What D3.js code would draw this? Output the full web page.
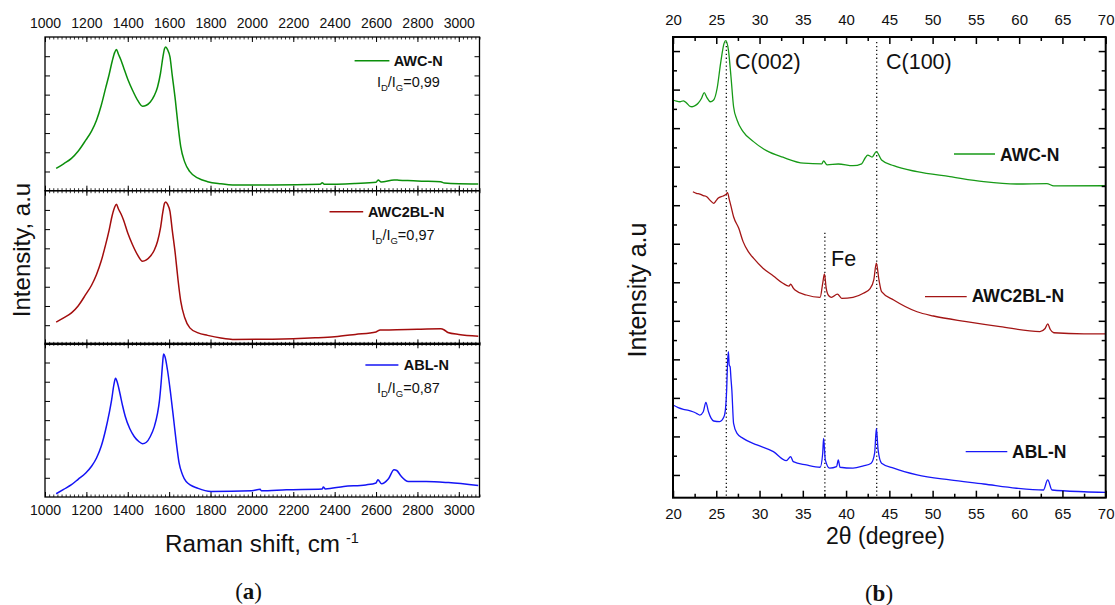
<!DOCTYPE html>
<html><head><meta charset="utf-8">
<script src="https://cdn.jsdelivr.net/npm/d3@7"></script>
<style>
body{margin:0;background:#fff;}
svg{display:block;font-family:"Liberation Sans",Arial,sans-serif;}
</style></head>
<body><svg id="c" width="1115" height="605"></svg>
<script>
// ---------- DATA ----------
// Raman spectra [shift cm^-1, intensity a.u.]
const ramanAWC = [[1054,1.16],[1090,1.40],[1128,1.68],[1160,2.05],[1197,2.63],[1225,3.10],[1249,3.67],[1272,4.45],[1293,5.34],[1310,6.05],[1325,6.75],[1337,7.20],[1345,7.35],[1355,7.10],[1367,6.80],[1379,6.44],[1400,5.80],[1423,5.23],[1448,4.70],[1471,4.40],[1490,4.45],[1509,4.62],[1528,4.95],[1544,5.40],[1558,6.10],[1570,6.96],[1578,7.40],[1584,7.48],[1592,7.35],[1604,6.96],[1615,6.00],[1630,4.71],[1643,3.40],[1656,2.29],[1675,1.50],[1700,0.99],[1740,0.65],[1786,0.47],[1850,0.36],[1907,0.30],[2100,0.30],[2330,0.33],[2340,0.42],[2350,0.33],[2500,0.38],[2600,0.44],[2610,0.56],[2625,0.45],[2687,0.56],[2710,0.55],[2800,0.50],[2912,0.47],[2930,0.40],[3000,0.36],[3094,0.35]];
const ramanAWC2BL = [[1054,1.16],[1090,1.38],[1128,1.64],[1160,2.00],[1197,2.60],[1225,3.08],[1249,3.64],[1272,4.35],[1293,5.19],[1310,5.95],[1325,6.72],[1337,7.15],[1345,7.30],[1355,7.05],[1367,6.80],[1379,6.49],[1400,5.80],[1423,5.19],[1448,4.65],[1471,4.33],[1490,4.40],[1509,4.59],[1528,4.90],[1544,5.37],[1558,6.05],[1570,6.92],[1578,7.35],[1584,7.41],[1592,7.30],[1604,6.92],[1615,5.95],[1630,4.68],[1643,3.35],[1656,2.25],[1675,1.40],[1700,0.86],[1740,0.60],[1786,0.47],[1850,0.33],[1907,0.26],[2100,0.27],[2306,0.34],[2400,0.40],[2500,0.52],[2600,0.65],[2620,0.75],[2700,0.76],[2800,0.79],[2912,0.81],[2930,0.75],[2947,0.62],[3000,0.52],[3094,0.43]];
const ramanABL = [[1054,0.17],[1090,0.40],[1128,0.64],[1160,0.92],[1197,1.25],[1225,1.60],[1249,2.03],[1272,2.65],[1293,3.50],[1310,4.35],[1322,5.05],[1333,5.85],[1341,6.18],[1350,5.95],[1362,5.40],[1375,4.75],[1388,4.19],[1410,3.55],[1431,3.15],[1452,2.90],[1471,2.77],[1490,2.85],[1509,3.15],[1528,3.65],[1544,4.36],[1553,5.00],[1561,5.92],[1568,6.90],[1573,7.44],[1580,7.30],[1592,6.61],[1607,5.40],[1622,4.02],[1635,2.80],[1648,1.77],[1665,1.15],[1682,0.81],[1740,0.45],[1803,0.29],[2000,0.33],[2040,0.40],[2045,0.33],[2167,0.38],[2340,0.42],[2345,0.52],[2355,0.42],[2444,0.55],[2550,0.63],[2600,0.73],[2609,0.90],[2626,0.69],[2660,0.95],[2687,1.42],[2700,1.38],[2720,1.10],[2756,0.81],[2842,0.81],[2950,0.75],[3094,0.60]];
const ramanNames = ["AWC-N","AWC2BL-N","ABL-N"];
const ramanRatios = ["0,99","0,97","0,87"];
const ramanTicks = [1000,1200,1400,1600,1800,2000,2200,2400,2600,2800,3000];

// XRD patterns [2theta deg, intensity a.u.]
const xrdAWC = [[20,20.46],[20.4,20.40],[20.8,20.37],[21.2,20.42],[21.6,20.29],[21.9,20.15],[22.2,20.11],[22.6,20.18],[22.9,20.29],[23.3,20.55],[23.6,20.84],[23.9,20.60],[24.3,20.37],[24.7,20.46],[25.1,21.07],[25.5,22.36],[25.9,23.40],[26.1,23.54],[26.4,23.06],[26.7,21.67],[27.0,20.11],[27.4,19.42],[28.1,18.82],[29.3,18.30],[30.8,17.83],[32.7,17.49],[35.1,17.18],[37.2,17.15],[37.4,17.30],[37.8,17.09],[39.1,17.14],[40.8,17.05],[41.8,17.15],[42.2,17.45],[42.5,17.60],[43.0,17.50],[43.5,17.78],[44.1,17.35],[45.5,17.05],[48.2,16.74],[52.0,16.48],[55.9,16.22],[59.7,16.10],[63.2,16.12],[64.0,16.00],[70,16.01]];
const xrdAWC2BL = [[22.3,15.70],[22.7,15.62],[23.1,15.58],[23.5,15.50],[23.9,15.44],[24.3,15.25],[24.7,15.10],[25.0,15.25],[25.2,15.36],[25.8,15.48],[26.1,15.55],[26.3,15.65],[26.5,15.30],[26.7,14.95],[27.0,14.40],[27.6,13.80],[28.1,13.11],[28.7,12.59],[29.3,12.25],[30.4,11.73],[31.6,11.33],[32.7,10.95],[33.4,10.80],[33.6,10.90],[33.9,10.70],[34.1,10.60],[35.4,10.34],[37.0,10.22],[37.3,10.95],[37.5,11.43],[37.7,10.70],[38.0,10.30],[38.3,10.22],[39.0,10.39],[39.5,10.17],[40.8,10.22],[42.0,10.43],[42.8,10.69],[43.2,11.12],[43.5,11.99],[43.8,11.12],[44.1,10.51],[45.5,10.08],[48.2,9.47],[50.1,9.25],[53.9,8.96],[57.8,8.70],[62.4,8.44],[63.0,8.60],[63.3,8.84],[63.6,8.55],[64.0,8.38],[67.5,8.32],[70,8.32]];
const xrdABL = [[20,4.63],[20.6,4.50],[21.2,4.41],[21.8,4.35],[22.3,4.28],[22.7,4.20],[23.1,4.11],[23.5,4.28],[23.8,4.77],[24.1,4.28],[24.4,3.95],[24.7,3.80],[25.4,3.77],[25.9,4.03],[26.1,4.60],[26.2,5.41],[26.3,6.80],[26.4,7.40],[26.5,6.70],[26.6,6.62],[26.7,6.00],[26.8,5.41],[27.0,3.68],[27.4,3.16],[28.1,2.90],[29.7,2.56],[31.6,2.21],[33.1,1.74],[33.6,1.95],[33.9,1.69],[35.4,1.52],[37.0,1.40],[37.3,2.13],[37.4,2.90],[37.6,1.78],[38.1,1.35],[38.9,1.43],[39.1,1.78],[39.3,1.40],[40.8,1.35],[42.0,1.47],[42.9,1.61],[43.3,2.13],[43.5,3.42],[43.7,2.30],[44.1,1.61],[45.5,1.35],[48.2,1.00],[52.0,0.74],[55.9,0.53],[59.7,0.31],[62.8,0.22],[63.3,0.74],[63.8,0.22],[67.5,0.13],[70,0.10]];
const xrdNames = ["AWC-N","AWC2BL-N","ABL-N"];
const xrdTicks = [20,25,30,35,40,45,50,55,60,65,70];
const xrdMarkers = [26.16,37.55,43.54];
const xrdMarkerLabels = ["C(002)","Fe","C(100)"];

// ---------- DRAW ----------
const svg = d3.select("#c");
const line = (x,y) => d3.line().x(d=>x(d[0])).y(d=>y(d[1])).curve(d3.curveMonotoneX);

// ===== Panel (a): Raman =====
const L = {x0:45, x1:479.5, tops:[37,190.7,343.3], h:153.7};
const xL = d3.scaleLinear().domain([1000,3100]).range([L.x0,L.x1]);
const ramanSeries = [ramanAWC, ramanAWC2BL, ramanABL];
const ramanColors = ["#0b8f0b","#a30d0d","#1414f5"];
const legLine = [[354.6,389.4,23.7],[329.5,363.2,21],[365.4,398.4,21.7]];
const legText = [[393.7,28.7],[367.9,26],[403.8,26.7]];
const ratioPos = [[376.9,50],[371.5,49.3],[376.9,50]];
const minorL = d3.range(1000,3101,20);

ramanSeries.forEach((data,i)=>{
  const top = L.tops[i], bot = top + L.h;
  const y = d3.scaleLinear().domain([0,8]).range([bot,top]);
  const g = svg.append("g");
  g.append("rect").attr("x",L.x0).attr("y",top).attr("width",L.x1-L.x0).attr("height",L.h)
    .attr("fill","none").attr("stroke","#000").attr("stroke-width",1.3);
  [["top",top],["bottom",bot]].forEach(([side,yy])=>{
    const ax = side==="top"?d3.axisTop:d3.axisBottom;
    g.append("g").attr("transform",`translate(0,${yy})`)
      .call(ax(xL).tickValues(minorL).tickSize(-2.5).tickSizeOuter(0).tickFormat(""))
      .call(s=>s.select(".domain").remove())
      .call(s=>s.selectAll("line").attr("stroke-width",0.8));
    const showLab = (side==="top" && i===0) || (side==="bottom" && i===2);
    g.append("g").attr("transform",`translate(0,${yy})`)
      .call(ax(xL).tickValues(ramanTicks).tickSize(-5).tickSizeOuter(0).tickPadding(side==="top"?8.7:8.5)
        .tickFormat(showLab? d3.format("d") : ""))
      .call(s=>s.select(".domain").remove())
      .call(s=>s.selectAll("text").attr("font-size",14).attr("fill","#111").attr("font-family","Liberation Sans, Arial"))
      .call(s=>s.selectAll("line").attr("stroke-width",1));
  });
  const yt = [1,2,3,4,5,6,7];
  g.append("g").attr("transform",`translate(${L.x0},0)`)
    .call(d3.axisLeft(y).tickValues(yt).tickSize(-5).tickSizeOuter(0).tickFormat(""))
    .call(s=>s.select(".domain").remove());
  g.append("g").attr("transform",`translate(${L.x1},0)`)
    .call(d3.axisRight(y).tickValues(yt).tickSize(-5).tickSizeOuter(0).tickFormat(""))
    .call(s=>s.select(".domain").remove());
  g.append("path").datum(data).attr("d",line(xL,y)).attr("fill","none")
    .attr("stroke",ramanColors[i]).attr("stroke-width",1.5).attr("stroke-linejoin","round");
  g.append("line").attr("x1",legLine[i][0]).attr("x2",legLine[i][1])
    .attr("y1",top+legLine[i][2]).attr("y2",top+legLine[i][2])
    .attr("stroke",ramanColors[i]).attr("stroke-width",1.5);
  g.append("text").attr("x",legText[i][0]).attr("y",top+legText[i][1])
    .attr("font-size",14.5).attr("font-weight","bold").attr("fill","#111").text(ramanNames[i]);
  const t = g.append("text").attr("x",ratioPos[i][0]).attr("y",top+ratioPos[i][1])
    .attr("font-size",14.5).attr("fill","#111");
  t.append("tspan").text("I");
  t.append("tspan").attr("font-size",9.5).attr("dy",4).text("D");
  t.append("tspan").attr("dy",-4).text("/I");
  t.append("tspan").attr("font-size",9.5).attr("dy",4).text("G");
  t.append("tspan").attr("dy",-4).text("="+ramanRatios[i]);
});
svg.append("text").attr("transform","translate(30,250) rotate(-90)").attr("text-anchor","middle")
  .attr("font-size",24).attr("fill","#111").text("Intensity, a.u");
svg.append("text").attr("x",165).attr("y",551.7).attr("font-size",23.5).attr("fill","#111")
  .attr("textLength",175).attr("lengthAdjust","spacingAndGlyphs").text("Raman shift, cm");
svg.append("text").attr("x",346).attr("y",543).attr("font-size",14.5).attr("fill","#111").text("-1");
const ta = svg.append("text").attr("x",248.6).attr("y",599).attr("text-anchor","middle")
  .attr("font-family","Liberation Serif, Times New Roman, serif").attr("font-size",23).attr("fill","#111");
ta.append("tspan").text("(");
ta.append("tspan").attr("font-weight","bold").text("a");
ta.append("tspan").text(")");

// ===== Panel (b): XRD =====
const R = {x0:673, x1:1105.7, y0:37, y1:497.7};
const xR = d3.scaleLinear().domain([20,70]).range([R.x0,R.x1]);
const yR = d3.scaleLinear().domain([-0.18,23.73]).range([R.y1,R.y0]);
const gR = svg.append("g");
const xrdSeries = [xrdAWC, xrdAWC2BL, xrdABL];
const xrdColors = ["#179a17","#a31515","#1818f8"];
const minorR = d3.range(22.5,70,5);
const yMaj = d3.range(1,24,2), yMin = d3.range(2,24,2);

const markerTop = [42,232.7,42];
xrdMarkers.forEach((m,i)=>{
  gR.append("line").attr("x1",xR(m)).attr("x2",xR(m)).attr("y1",markerTop[i]).attr("y2",R.y1)
    .attr("stroke","#000").attr("stroke-width",1.2).attr("stroke-dasharray","1.3,2.6");
});
xrdSeries.forEach((data,i)=>{
  gR.append("path").datum(data).attr("d",line(xR,yR)).attr("fill","none")
    .attr("stroke",xrdColors[i]).attr("stroke-width",1.3).attr("stroke-linejoin","round");
});
gR.append("rect").attr("x",R.x0).attr("y",R.y0).attr("width",R.x1-R.x0).attr("height",R.y1-R.y0)
  .attr("fill","none").attr("stroke","#000").attr("stroke-width",2);
[["top",R.y0],["bottom",R.y1]].forEach(([side,yy])=>{
  const ax = side==="top"?d3.axisTop:d3.axisBottom;
  gR.append("g").attr("transform",`translate(0,${yy})`)
    .call(ax(xR).tickValues(minorR).tickSize(-4).tickSizeOuter(0).tickFormat(""))
    .call(s=>s.select(".domain").remove())
    .call(s=>s.selectAll("line").attr("stroke-width",1.5));
  gR.append("g").attr("transform",`translate(0,${yy})`)
    .call(ax(xR).tickValues(xrdTicks).tickSize(-7).tickSizeOuter(0).tickPadding(side==="top"?12:11).tickFormat(d3.format("d")))
    .call(s=>s.select(".domain").remove())
    .call(s=>s.selectAll("line").attr("stroke-width",1.5))
    .call(s=>s.selectAll("text").attr("font-size",15).attr("fill","#111").attr("font-family","Liberation Sans, Arial"));
});
[[d3.axisLeft,R.x0],[d3.axisRight,R.x1]].forEach(([ax,xx])=>{
  gR.append("g").attr("transform",`translate(${xx},0)`)
    .call(ax(yR).tickValues(yMaj).tickSize(-7).tickSizeOuter(0).tickFormat(""))
    .call(s=>s.select(".domain").remove()).call(s=>s.selectAll("line").attr("stroke-width",1.5));
  gR.append("g").attr("transform",`translate(${xx},0)`)
    .call(ax(yR).tickValues(yMin).tickSize(-4).tickSizeOuter(0).tickFormat(""))
    .call(s=>s.select(".domain").remove()).call(s=>s.selectAll("line").attr("stroke-width",1.5));
});
const mlPos = [[735,69],[831,266],[886,69]];
xrdMarkerLabels.forEach((t,i)=>{
  gR.append("text").attr("x",mlPos[i][0]).attr("y",mlPos[i][1]).attr("font-size",21.5).attr("fill","#111").text(t);
});
const rLeg = [[954,995,154,1000,160.7],[925,966.7,296.7,971.7,302.3],[965.7,1007.3,451.7,1012,458.3]];
xrdNames.forEach((n,i)=>{
  const p = rLeg[i];
  gR.append("line").attr("x1",p[0]).attr("x2",p[1]).attr("y1",p[2]).attr("y2",p[2])
    .attr("stroke",xrdColors[i]).attr("stroke-width",1.3);
  gR.append("text").attr("x",p[3]).attr("y",p[4]).attr("font-size",17.5).attr("font-weight","bold")
    .attr("fill","#111").text(n);
});
svg.append("text").attr("transform","translate(646,290) rotate(-90)").attr("text-anchor","middle")
  .attr("font-size",25).attr("fill","#111").text("Intensity a.u");
svg.append("text").attr("x",885.5).attr("y",544).attr("text-anchor","middle")
  .attr("font-size",23).attr("fill","#111").text("2θ (degree)");
const tb = svg.append("text").attr("x",879).attr("y",601).attr("text-anchor","middle")
  .attr("font-family","Liberation Serif, Times New Roman, serif").attr("font-size",23).attr("fill","#111");
tb.append("tspan").text("(");
tb.append("tspan").attr("font-weight","bold").text("b");
tb.append("tspan").text(")");
</script></body></html>
